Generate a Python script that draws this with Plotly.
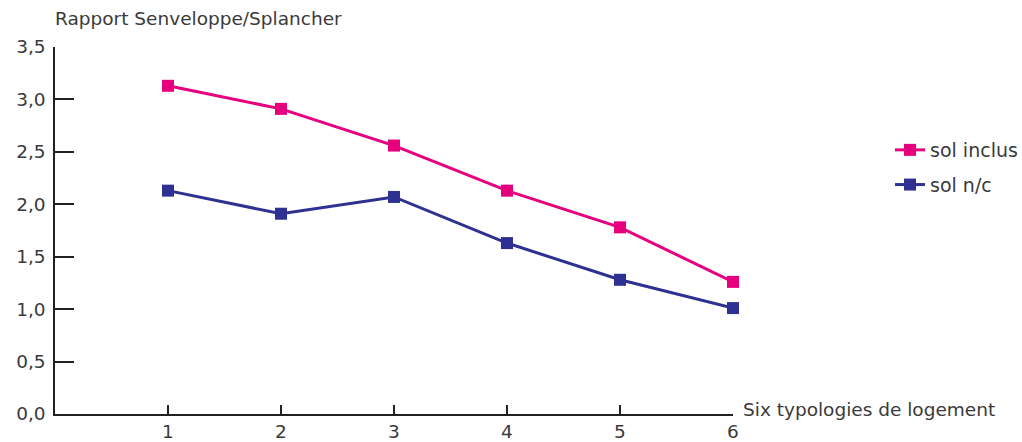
import plotly.graph_objects as go

categories = [1, 2, 3, 4, 5, 6]
sol_inclus = [3.13, 2.91, 2.56, 2.13, 1.78, 1.26]
sol_nc = [2.13, 1.91, 2.07, 1.63, 1.28, 1.01]
y_tickvals = [0, 0.5, 1.0, 1.5, 2.0, 2.5, 3.0, 3.5]
y_ticktext = ["0,0", "0,5", "1,0", "1,5", "2,0", "2,5", "3,0", "3,5"]
x_ticktext = ["1", "2", "3", "4", "5", "6"]

PINK = "#E6007E"
BLUE = "#2E3192"
TXT = "#3a3a3a"
FONT = "DejaVu Sans"
FS = 18.5

fig = go.Figure()
fig.add_trace(go.Scatter(x=categories, y=sol_inclus, name="sol inclus", mode="lines+markers",
                         line=dict(color=PINK, width=3), legendgroup="a", cliponaxis=False,
                         marker=dict(symbol="square", size=12, color=PINK)))
fig.add_trace(go.Scatter(x=categories, y=sol_nc, name="sol n/c", mode="lines+markers",
                         line=dict(color=BLUE, width=3), legendgroup="b", cliponaxis=False,
                         marker=dict(symbol="square", size=12, color=BLUE)))

fig.update_layout(
    width=1022, height=442,
    margin=dict(l=55, r=289, t=47, b=28, autoexpand=False),
    plot_bgcolor="white", paper_bgcolor="white",
    font=dict(family=FONT, size=FS, color=TXT),
    showlegend=True,
    legend=dict(x=1.2316, y=0.7711, xanchor="left", yanchor="top",
                font=dict(size=19, color=TXT), tracegroupgap=7,
                bgcolor="rgba(0,0,0,0)"),
    xaxis=dict(range=[0, 6], tickvals=categories, ticktext=x_ticktext,
               showline=True, linecolor="#222", linewidth=1.5,
               ticks="inside", ticklen=9, tickwidth=1.5, tickcolor="#222",
               showgrid=False, zeroline=False, fixedrange=True, automargin=False),
    yaxis=dict(range=[0, 3.5], tickvals=y_tickvals, ticktext=y_ticktext,
               showline=True, linecolor="#222", linewidth=1.5,
               ticks="inside", ticklen=19, tickwidth=1.5, tickcolor="#222",
               showgrid=False, zeroline=False, fixedrange=True, automargin=False,
               ticklabelstandoff=4),
    annotations=[
        dict(text="Rapport Senveloppe/Splancher", xref="paper", yref="paper",
             x=0, y=1, xshift=-2, yshift=16, xanchor="left", yanchor="bottom",
             showarrow=False, font=dict(size=FS, color=TXT)),
        dict(text="Six typologies de logement", xref="paper", yref="paper",
             x=1, y=0, xshift=8, yshift=5, xanchor="left", yanchor="middle",
             showarrow=False, font=dict(size=FS, color=TXT)),
    ],
)

# remove the default 8px body margin so the figure fills the window exactly
fig.write_html("out.html", config={"displayModeBar": False},
               post_script="document.body.style.margin='0';document.body.style.overflow='hidden';")
